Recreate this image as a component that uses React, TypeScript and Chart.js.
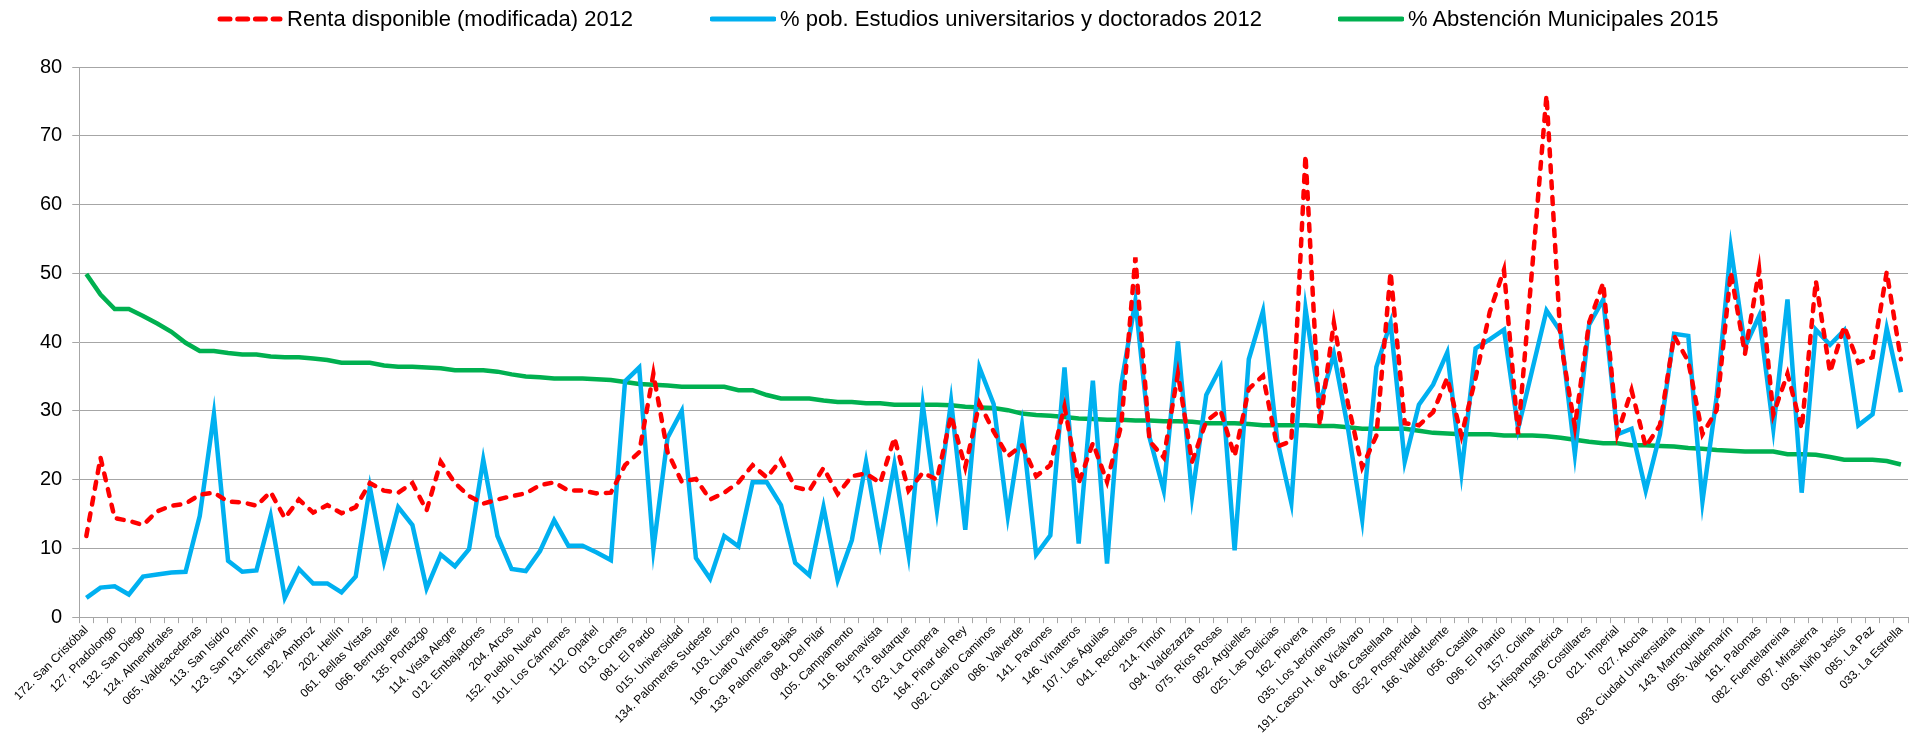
import React, { useEffect, useRef } from "react";
import { Chart, registerables } from "chart.js";

Chart.register(...registerables);

// Barrios labelled on the axis (every other category is labelled)
const labelledBarrios = [
  "172. San Cristóbal", "127. Pradolongo", "132. San Diego", "124. Almendrales", "065. Valdeacederas",
  "113. San Isidro", "123. San Fermín", "131. Entrevías", "192. Ambroz", "202. Hellín",
  "061. Bellas Vistas", "066. Berruguete", "135. Portazgo", "114. Vista Alegre", "012. Embajadores",
  "204. Arcos", "152. Pueblo Nuevo", "101. Los Cármenes", "112. Opañel", "013. Cortes",
  "081. El Pardo", "015. Universidad", "134. Palomeras Sudeste", "103. Lucero", "106. Cuatro Vientos",
  "133. Palomeras Bajas", "084. Del Pilar", "105. Campamento", "116. Buenavista", "173. Butarque",
  "023. La Chopera", "164. Pinar del Rey", "062. Cuatro Caminos", "086. Valverde", "141. Pavones",
  "146. Vinateros", "107. Las Águilas", "041. Recoletos", "214. Timón", "094. Valdezarza",
  "075. Ríos Rosas", "092. Argüelles", "025. Las Delicias", "162. Piovera", "035. Los Jerónimos",
  "191. Casco H. de Vicálvaro", "046. Castellana", "052. Prosperidad", "166. Valdefuente", "056. Castilla",
  "096. El Plantío", "157. Colina", "054. Hispanoamérica", "159. Costillares", "021. Imperial",
  "027. Atocha", "093. Ciudad Universitaria", "143. Marroquina", "095. Valdemarín", "161. Palomas",
  "082. Fuentelarreina", "087. Mirasierra", "036. Niño Jesús", "085. La Paz", "033. La Estrella",
];

// 129 categories: labelled ones alternate with unlabelled ones
const categories: string[] = labelledBarrios.flatMap((b, i) =>
  i < labelledBarrios.length - 1 ? [b, ""] : [b]
);

const renta = [
  11.8, 23.2, 14.4, 14.0, 13.4, 15.4, 16.2, 16.5, 17.8, 18.1,
  16.8, 16.7, 16.2, 18.2, 14.4, 17.1, 15.2, 16.3, 15.1, 16.0,
  19.5, 18.4, 18.1, 19.5, 15.5, 22.6, 19.5, 17.6, 16.5, 17.1,
  17.6, 18.0, 19.2, 19.6, 18.4, 18.4, 18.0, 18.1, 22.1, 24.0,
  35.4, 24.0, 19.7, 20.1, 17.1, 18.1, 19.6, 22.1, 20.3, 22.9,
  18.9, 18.4, 21.7, 17.9, 20.5, 20.9, 19.5, 26.1, 18.4, 21.0,
  20.0, 29.3, 21.8, 31.1, 27.0, 23.4, 25.0, 20.5, 22.1, 30.6,
  19.5, 25.3, 19.7, 27.9, 52.3, 25.6, 23.2, 35.4, 22.6, 28.5,
  30.1, 23.4, 33.2, 35.1, 24.8, 25.6, 67.2, 27.9, 42.8, 31.0,
  21.8, 26.4, 50.2, 28.2, 27.9, 29.8, 34.8, 26.4, 34.8, 44.4,
  50.5, 26.6, 51.0, 75.9, 40.0, 27.7, 42.8, 48.6, 26.6, 33.0,
  24.8, 27.9, 40.9, 37.2, 26.6, 30.1, 50.2, 38.3, 50.5, 29.5,
  35.4, 27.4, 48.9, 35.6, 42.3, 37.0, 37.8, 50.2, 37.5,
];

const universitarios = [
  2.8, 4.3, 4.5, 3.3, 5.9, 6.2, 6.5, 6.6, 14.7, 29.5,
  8.2, 6.6, 6.8, 14.7, 2.8, 7.0, 4.9, 4.9, 3.6, 5.9,
  18.9, 8.1, 16.0, 13.4, 4.2, 9.1, 7.4, 9.9, 22.9, 11.8,
  7.0, 6.7, 9.6, 14.1, 10.4, 10.4, 9.4, 8.3, 34.3, 36.3,
  9.9, 26.1, 30.0, 8.6, 5.6, 11.8, 10.3, 19.6, 19.6, 16.3,
  7.9, 6.1, 16.0, 5.4, 11.2, 22.6, 10.8, 22.2, 9.1, 30.9,
  15.5, 31.4, 12.7, 36.3, 31.0, 14.7, 27.9, 9.1, 11.9, 36.3,
  10.7, 34.4, 7.8, 33.8, 46.0, 26.1, 18.4, 40.1, 17.6, 32.3,
  36.3, 9.7, 37.5, 44.5, 25.8, 16.6, 44.9, 30.9, 38.3, 27.4,
  14.2, 36.4, 42.8, 22.6, 30.9, 33.8, 38.5, 21.0, 39.1, 40.4,
  41.8, 27.4, 36.0, 44.6, 41.5, 23.7, 42.5, 46.2, 26.6, 27.4,
  18.4, 26.6, 41.2, 40.9, 16.8, 32.0, 53.7, 39.3, 43.8, 27.4,
  46.2, 18.1, 41.8, 39.6, 41.7, 27.9, 29.5, 42.0, 32.7,
];

const abstencion = [
  49.9, 46.9, 44.8, 44.8, 43.8, 42.7, 41.5, 39.9, 38.7, 38.7,
  38.4, 38.2, 38.2, 37.9, 37.8, 37.8, 37.6, 37.4, 37.0, 37.0,
  37.0, 36.6, 36.4, 36.4, 36.3, 36.2, 35.9, 35.9, 35.9, 35.7,
  35.3, 35.0, 34.9, 34.7, 34.7, 34.7, 34.6, 34.5, 34.2, 33.9,
  33.8, 33.7, 33.5, 33.5, 33.5, 33.5, 33.0, 33.0, 32.3, 31.8,
  31.8, 31.8, 31.5, 31.3, 31.3, 31.1, 31.1, 30.9, 30.9, 30.9,
  30.9, 30.8, 30.6, 30.5, 30.4, 30.1, 29.6, 29.4, 29.3, 29.1,
  28.9, 28.8, 28.7, 28.7, 28.6, 28.6, 28.5, 28.5, 28.4, 28.2,
  28.2, 28.2, 28.1, 27.9, 27.9, 27.9, 27.9, 27.8, 27.8, 27.6,
  27.4, 27.4, 27.4, 27.4, 27.1, 26.8, 26.7, 26.6, 26.6, 26.6,
  26.4, 26.4, 26.4, 26.3, 26.1, 25.8, 25.5, 25.3, 25.3, 25.0,
  25.0, 24.9, 24.8, 24.6, 24.5, 24.3, 24.2, 24.1, 24.1, 24.1,
  23.7, 23.7, 23.6, 23.3, 22.9, 22.9, 22.9, 22.7, 22.2,
];

const seriesNames = [
  "Renta disponible (modificada) 2012",
  "% pob. Estudios universitarios y doctorados 2012",
  "% Abstención Municipales 2015",
];
const seriesColors = ["#FF0000", "#00B0F0", "#00B050"];

const FONT = "'Liberation Sans', Arial, sans-serif";
const GRID = "#A6A6A6";

function LegendItem({ idx, marginLeft }: { idx: number; marginLeft: number }) {
  const dashed = idx === 0;
  return (
    <div style={{ display: "flex", alignItems: "center", marginLeft }}>
      <svg width={66} height={8} style={{ display: "block" }}>
        <line
          x1={dashed ? 3 : 2}
          y1={4}
          x2={dashed ? 63 : 64}
          y2={4}
          stroke={seriesColors[idx]}
          strokeWidth={5}
          strokeLinecap="round"
          strokeDasharray={dashed ? "10 7.7" : undefined}
        />
      </svg>
      <span style={{ marginLeft: 4, whiteSpace: "nowrap" }}>{seriesNames[idx]}</span>
    </div>
  );
}

export default function App() {
  const canvasRef = useRef<HTMLCanvasElement | null>(null);

  useEffect(() => {
    document.body.style.margin = "0";
    const canvas = canvasRef.current;
    if (!canvas) return;
    const chart = new Chart(canvas, {
      type: "line",
      data: {
        labels: categories,
        datasets: [
          {
            label: seriesNames[0],
            data: renta,
            borderColor: seriesColors[0],
            backgroundColor: seriesColors[0],
            borderWidth: 4.5,
            borderDash: [7, 9],
            borderCapStyle: "round",
            pointRadius: 0,
            tension: 0,
            fill: false,
          },
          {
            label: seriesNames[1],
            data: universitarios,
            borderColor: seriesColors[1],
            backgroundColor: seriesColors[1],
            borderWidth: 4.5,
            pointRadius: 0,
            tension: 0,
            fill: false,
          },
          {
            label: seriesNames[2],
            data: abstencion,
            borderColor: seriesColors[2],
            backgroundColor: seriesColors[2],
            borderWidth: 4.5,
            pointRadius: 0,
            tension: 0,
            fill: false,
          },
        ],
      },
      options: {
        responsive: true,
        maintainAspectRatio: false,
        animation: false,
        layout: { padding: { left: 30, right: 6, top: 67, bottom: 0 } },
        plugins: {
          legend: { display: false },
          tooltip: { enabled: false },
        },
        scales: {
          x: {
            offset: true,
            grid: {
              offset: true,
              drawOnChartArea: false,
              drawTicks: true,
              tickLength: 6,
              color: GRID,
            },
            border: { display: true, color: GRID, width: 1 },
            ticks: {
              autoSkip: false,
              maxRotation: 45,
              minRotation: 45,
              color: "#000",
              font: { family: FONT, size: 12 },
              padding: 0,
            },
          },
          y: {
            min: 0,
            max: 80,
            ticks: {
              stepSize: 10,
              color: "#000",
              font: { family: FONT, size: 20 },
              padding: 10,
            },
            grid: { color: GRID, lineWidth: 1, tickLength: 7 },
            border: { display: true, color: GRID, width: 1 },
          },
        },
      },
    });
    return () => chart.destroy();
  }, []);

  return (
    <div style={{ width: "1914px", height: "736px", position: "relative", background: "#fff" }}>
      <canvas ref={canvasRef} />
      <div
        style={{
          position: "absolute",
          left: 217,
          top: 6,
          display: "flex",
          alignItems: "center",
          fontFamily: FONT,
          fontSize: 22,
          lineHeight: "26px",
          color: "#000",
        }}
      >
        <LegendItem idx={0} marginLeft={0} />
        <LegendItem idx={1} marginLeft={77} />
        <LegendItem idx={2} marginLeft={76} />
      </div>
    </div>
  );
}
